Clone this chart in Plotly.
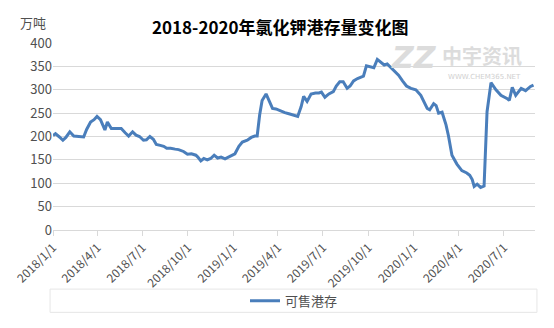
import plotly.graph_objects as go

# ---- data ----
dates = [
    "2018-01-01", "2018-01-06", "2018-01-14", "2018-01-21", "2018-01-27", "2018-02-04",
    "2018-02-12", "2018-02-22", "2018-03-04", "2018-03-10", "2018-03-18", "2018-03-25",
    "2018-03-31", "2018-04-07", "2018-04-16", "2018-04-21", "2018-04-29", "2018-05-09",
    "2018-05-19", "2018-05-27", "2018-06-03", "2018-06-11", "2018-06-18", "2018-06-25",
    "2018-07-03", "2018-07-09", "2018-07-16", "2018-07-23", "2018-07-29", "2018-08-06",
    "2018-08-13", "2018-08-19", "2018-08-27", "2018-09-05", "2018-09-12", "2018-09-22",
    "2018-09-30", "2018-10-08", "2018-10-17", "2018-10-21", "2018-10-27", "2018-11-02",
    "2018-11-09", "2018-11-16", "2018-11-23", "2018-11-30", "2018-12-07", "2018-12-15",
    "2018-12-23", "2018-12-29", "2019-01-04", "2019-01-12", "2019-01-19", "2019-01-29",
    "2019-02-06", "2019-02-13", "2019-02-18", "2019-02-23", "2019-02-28", "2019-03-08",
    "2019-03-15", "2019-03-21", "2019-03-28", "2019-04-05", "2019-04-15", "2019-04-25",
    "2019-05-05", "2019-05-11", "2019-05-18", "2019-05-23", "2019-05-30", "2019-06-07",
    "2019-06-16", "2019-06-23", "2019-06-28", "2019-07-05", "2019-07-13", "2019-07-22",
    "2019-07-28", "2019-08-04", "2019-08-11", "2019-08-19", "2019-08-25", "2019-09-01",
    "2019-09-09", "2019-09-16", "2019-09-21", "2019-09-27", "2019-10-05", "2019-10-12",
    "2019-10-19", "2019-10-26", "2019-11-02", "2019-11-08", "2019-11-15", "2019-11-23",
    "2019-12-01", "2019-12-09", "2019-12-17", "2019-12-26", "2020-01-05", "2020-01-15",
    "2020-01-21", "2020-01-28", "2020-02-02", "2020-02-10", "2020-02-15", "2020-02-20",
    "2020-02-27", "2020-03-06", "2020-03-11", "2020-03-18", "2020-03-28", "2020-04-07",
    "2020-04-17", "2020-04-23", "2020-04-28", "2020-05-02", "2020-05-08", "2020-05-15",
    "2020-05-22", "2020-05-28", "2020-06-05", "2020-06-15", "2020-06-25", "2020-07-08",
    "2020-07-12", "2020-07-18", "2020-07-25", "2020-08-05", "2020-08-14", "2020-08-24",
    "2020-08-30",
]
stock = [
    202, 206, 199, 192, 198, 210,
    201, 200, 199, 215, 231, 236,
    243, 236, 214, 231, 217, 217,
    217, 208, 201, 210, 203, 200,
    192, 193, 200, 194, 183, 181,
    179, 175, 175, 173, 172, 168,
    162, 163, 160, 156, 148, 153,
    150, 153, 160, 154, 156, 152,
    156, 160, 163, 179, 188, 192,
    198, 201, 201, 246, 277, 291,
    275, 260, 259, 255, 251, 248,
    245, 243, 264, 286, 275, 291,
    293, 293, 295, 284, 291, 296,
    308, 317, 317, 303, 308, 319,
    324, 326, 329, 351, 349, 347,
    365, 358, 353, 355, 347, 340,
    331, 319, 308, 303, 300, 288,
    274, 260, 257, 270, 266, 250,
    252, 225, 201, 160, 141, 127,
    122, 117, 108, 93, 98, 91,
    94, 253, 315, 300, 288, 281,
    277, 305, 288, 303, 298, 307,
    310,
]
series_name = "可售港存"
tick_dates = ["2018-01-01", "2018-04-01", "2018-07-01", "2018-10-01", "2019-01-01",
              "2019-04-01", "2019-07-01", "2019-10-01", "2020-01-01", "2020-04-01",
              "2020-07-01"]
tick_labels = ["2018/1/1", "2018/4/1", "2018/7/1", "2018/10/1", "2019/1/1",
               "2019/4/1", "2019/7/1", "2019/10/1", "2020/1/1", "2020/4/1",
               "2020/7/1"]
y_ticks = [0, 50, 100, 150, 200, 250, 300, 350, 400]
title_text = "2018-2020年氯化钾港存量变化图"
unit_text = "万吨"

W, H = 554, 328
L, R, T, B = 44, 19, 43, 92
ph = H - T - B
pw = W - L - R

def py(pix):  # pixel y -> paper y
    return (H - B - pix) / ph

def px(pix):  # pixel x -> paper x
    return (pix - L) / pw

FONT = "Noto Sans CJK SC"
grid = "#d9d9d9"
txt = "#505050"

fig = go.Figure()
fig.add_trace(go.Scatter(
    x=dates, y=stock, mode="lines", name=series_name,
    line=dict(color="#4a7ebb", width=3),
))

fig.update_layout(
    width=W, height=H,
    margin=dict(l=L, r=R, t=T, b=B),
    paper_bgcolor="white", plot_bgcolor="white",
    font=dict(family=FONT, color=txt, size=12),
    showlegend=True,
    legend=dict(orientation="h", x=0.5, xanchor="center", y=py(309), yanchor="middle",
                font=dict(size=13, color=txt), bgcolor="rgba(0,0,0,0)",
                itemwidth=30),
    xaxis=dict(
        type="date", range=["2018-01-01", "2020-09-02"],
        tickmode="array", tickvals=tick_dates, ticktext=tick_labels,
        tickangle=-45, tickfont=dict(size=12, color=txt, family=FONT),
        ticks="outside", ticklen=5, tickcolor=grid,
        showline=True, linecolor=grid, linewidth=1,
        showgrid=False, zeroline=False,
    ),
    yaxis=dict(
        range=[0, 400], tickmode="array", tickvals=y_ticks,
        tickfont=dict(size=13, color=txt, family=FONT),
        showgrid=True, gridcolor=grid, gridwidth=1,
        showline=False, zeroline=False, ticks="",
    ),
    shapes=[dict(type="rect", xref="paper", yref="paper",
                 x0=px(41), x1=px(537), y0=py(321), y1=py(297),
                 line=dict(color="#e6e6e6", width=1), fillcolor="rgba(0,0,0,0)",
                 layer="below")],
)

annotations = [
    dict(text="<b>" + title_text + "</b>", xref="paper", yref="paper",
         x=px(276), y=py(26), xanchor="center", yanchor="middle",
         showarrow=False, font=dict(size=17, color="#000000", family=FONT)),
    dict(text=unit_text, xref="paper", yref="paper",
         x=px(24), y=py(22), xanchor="center", yanchor="middle",
         showarrow=False, font=dict(size=13, color=txt, family=FONT)),
    # watermark
    dict(text="<b>中宇资讯</b>", xref="paper", yref="paper",
         x=px(481), y=py(56), xanchor="center", yanchor="middle",
         showarrow=False, font=dict(size=20, color="#dcdcdc", family=FONT)),
    dict(text="WWW.CHEM365.NET", xref="paper", yref="paper",
         x=px(484), y=py(78), xanchor="center", yanchor="middle",
         showarrow=False, font=dict(size=7, color="#d0d0d0", family="DejaVu Sans")),
    dict(text="<b><i>ZZ</i></b>", xref="paper", yref="paper",
         x=px(412), y=py(58), xanchor="center", yanchor="middle",
         showarrow=False, font=dict(size=30, color="#dcdcdc", family="DejaVu Sans")),
]
fig.update_layout(annotations=annotations)

fig.write_html("out.html")
